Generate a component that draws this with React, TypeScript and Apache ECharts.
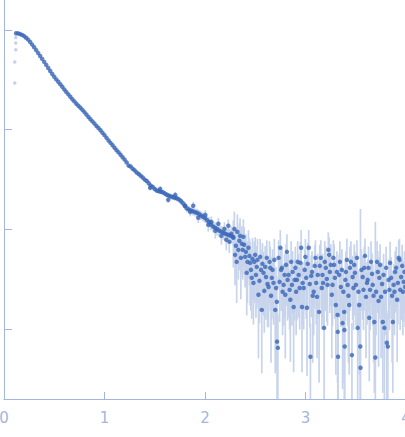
import { useEffect, useRef } from 'react';
import * as echarts from 'echarts';

// q (nm^-1), intensity (arb. units), sigma
const curvePoints: number[][] = [
  [0.12, 927, 4], [0.14, 923, 4], [0.16, 908, 4], [0.18, 891, 4], [0.2, 867, 4],
  [0.22, 836, 4], [0.24, 800, 4], [0.26, 757, 4], [0.28, 713, 3], [0.3, 670, 3],
  [0.32, 627, 3], [0.34, 586, 3], [0.36, 548, 3], [0.38, 512, 3], [0.4, 478, 3],
  [0.42, 446, 3], [0.44, 415, 3], [0.46, 387, 3], [0.48, 361, 3], [0.5, 339, 3],
  [0.52, 319, 3], [0.54, 302, 3], [0.56, 285, 3], [0.58, 269, 3], [0.6, 253, 3],
  [0.62, 239, 2.5], [0.64, 226, 2.5], [0.66, 214, 2.5], [0.68, 202, 2.5], [0.7, 192, 2.5],
  [0.72, 182, 2.5], [0.74, 174, 2.5], [0.76, 166, 2.5], [0.78, 158, 2.5], [0.8, 150, 2.5],
  [0.82, 142, 2.2], [0.84, 134, 2.2], [0.86, 127, 2.2], [0.88, 121, 2.2], [0.9, 115, 2.2],
  [0.92, 109, 2.2], [0.94, 104, 2.2], [0.96, 98.6, 2], [0.98, 93.3, 2], [1.0, 88.1, 2],
  [1.02, 82.8, 2], [1.04, 78.0, 2], [1.06, 73.8, 1.9], [1.08, 69.7, 1.9], [1.1, 65.8, 1.9],
  [1.12, 62.2, 1.8], [1.14, 59.2, 1.8], [1.16, 56.0, 1.8], [1.18, 53.0, 1.7], [1.2, 50.1, 1.7],
  [1.22, 47.0, 1.6], [1.24, 43.6, 1.6], [1.26, 42.7, 1.6], [1.28, 40.6, 1.5], [1.3, 39.1, 1.5],
  [1.32, 37.2, 1.5], [1.34, 36.0, 1.5], [1.36, 34.5, 1.4], [1.38, 33.1, 1.4], [1.4, 31.6, 1.4],
  [1.42, 30.6, 1.4], [1.44, 29.0, 1.4], [1.46, 27.5, 1.4], [1.48, 26.6, 1.4], [1.5, 25.4, 1.4],
  [1.52, 24.5, 1.4], [1.54, 24.2, 1.4], [1.56, 23.9, 1.4], [1.58, 23.6, 1.4], [1.6, 22.9, 1.4],
  [1.62, 22.3, 1.4], [1.64, 21.8, 1.4], [1.66, 21.4, 1.4], [1.68, 21.1, 1.4], [1.7, 20.8, 1.4],
  [1.72, 20.5, 1.4], [1.74, 20.0, 1.4], [1.76, 19.3, 1.4], [1.78, 18.3, 1.4], [1.8, 17.2, 1.4],
  [1.82, 16.2, 1.4], [1.84, 15.8, 1.4], [1.86, 15.5, 1.4], [1.88, 15.2, 1.4], [1.9, 14.9, 1.4],
  [1.92, 14.7, 1.4], [1.94, 14.3, 1.4], [1.96, 13.8, 1.4], [1.98, 13.4, 1.4], [2.0, 13.0, 1.4],
  [2.02, 12.4, 1.4], [2.04, 11.9, 1.4], [2.06, 11.2, 1.4], [2.08, 10.7, 1.4], [2.1, 10.4, 1.4],
  [2.12, 10.1, 1.4], [2.14, 9.77, 1.4], [2.16, 9.51, 1.4], [2.18, 9.29, 1.4], [2.2, 9.08, 1.4],
  [2.22, 8.91, 1.4], [2.24, 8.75, 1.4], [2.26, 8.61, 1.4], [2.28, 8.41, 1.4],
];

// scattered points around the shoulder
const shoulderPoints: number[][] = [
  [1.454, 26.1, 1.4], [1.554, 25.5, 1.4], [1.634, 19.8, 1.4], [1.704, 22.2, 1.4],
  [1.803, 17.3, 1.5], [1.853, 15.0, 1.5], [1.883, 17.3, 1.5], [1.933, 13.1, 1.5],
  [2.003, 14.0, 1.6], [2.033, 11.1, 1.6], [2.063, 11.9, 1.6], [2.103, 9.68, 1.6],
  [2.133, 11.4, 1.6], [2.163, 8.63, 1.6], [2.193, 10.1, 1.7], [2.212, 7.87, 1.7],
  [2.232, 10.9, 1.7], [2.242, 7.51, 1.7], [2.262, 9.04, 1.7],
];

// noisy high-q tail
const tailPoints: number[][] = [
  [2.282, 8.24, 4.1], [2.292, 10.1, 5.0], [2.299, 5.56, 2.8], [2.307, 6.85, 3.4], [2.315, 4.73, 2.9],
  [2.322, 9.46, 4.7], [2.332, 6.24, 3.1], [2.342, 7.69, 3.8], [2.349, 8.62, 4.3], [2.357, 5.19, 3.2],
  [2.367, 7.17, 3.6], [2.375, 6.24, 3.1], [2.382, 8.43, 4.2], [2.39, 7.01, 3.5], [2.399, 5.31, 2.7],
  [2.407, 5.96, 3.0], [2.415, 3.67, 2.3], [2.422, 4.73, 2.9], [2.432, 6.54, 3.3], [2.442, 5.43, 2.7],
  [2.449, 4.62, 2.9], [2.457, 3.93, 2.4], [2.465, 3.27, 2.0], [2.472, 5.07, 3.1], [2.482, 2.91, 1.8],
  [2.49, 4.73, 2.9], [2.499, 5.56, 2.8], [2.507, 3.5, 2.2], [2.515, 4.21, 2.6], [2.522, 4.95, 3.1],
  [2.532, 2.21, 1.7], [2.542, 3.05, 1.9], [2.549, 5.31, 2.7], [2.557, 3.93, 2.4], [2.565, 1.56, 1.2],
  [2.572, 4.52, 2.8], [2.582, 3.67, 2.3], [2.59, 2.42, 1.5], [2.599, 4.21, 2.6], [2.607, 3.34, 2.1],
  [2.615, 5.19, 2.6], [2.622, 2.84, 1.8], [2.632, 2.65, 1.6], [2.642, 4.73, 2.9], [2.649, 4.12, 2.6],
  [2.657, 2.16, 1.7], [2.665, 3.27, 2.0], [2.672, 3.93, 2.4], [2.682, 2.91, 1.8], [2.69, 4.95, 3.1],
  [2.699, 1.56, 1.2], [2.707, 2.59, 1.6], [2.715, 1.88, 1.5], [2.717, 0.75, 0.85], [2.725, 0.65, 0.75],
  [2.732, 5.19, 2.6], [2.742, 2.98, 1.8], [2.749, 6.54, 3.3], [2.757, 3.93, 2.4], [2.765, 4.12, 2.6],
  [2.772, 2.37, 1.5], [2.782, 2.78, 1.7], [2.792, 3.5, 2.2], [2.799, 2.21, 1.7], [2.807, 4.41, 2.7],
  [2.815, 5.96, 3.0], [2.822, 3.12, 1.9], [2.832, 3.5, 2.2], [2.842, 2.48, 1.5], [2.849, 1.97, 1.5],
  [2.857, 4.73, 2.9], [2.865, 2.78, 1.7], [2.872, 3.75, 2.3], [2.882, 1.67, 1.3], [2.892, 3.12, 1.9],
  [2.899, 4.12, 2.6], [2.907, 2.37, 1.5], [2.915, 3.12, 1.9], [2.922, 4.73, 2.9], [2.932, 3.5, 2.2],
  [2.942, 2.59, 1.6], [2.949, 4.62, 2.9], [2.957, 6.54, 3.3], [2.965, 1.67, 1.3], [2.972, 2.91, 1.8],
  [2.982, 2.59, 1.6], [2.992, 3.93, 2.4], [2.999, 5.31, 2.7], [3.007, 3.27, 2.0], [3.015, 1.64, 1.3],
  [3.022, 4.52, 2.8], [3.032, 6.54, 3.3], [3.042, 2.84, 1.8], [3.049, 0.53, 0.6], [3.057, 3.42, 2.1],
  [3.065, 3.75, 2.3], [3.072, 2.16, 1.7], [3.082, 2.37, 1.5], [3.092, 4.31, 2.7], [3.099, 5.19, 2.6],
  [3.107, 2.91, 1.8], [3.115, 2.11, 1.6], [3.122, 3.5, 2.2], [3.135, 1.49, 1.2], [3.142, 4.31, 2.7],
  [3.152, 5.19, 2.6], [3.162, 2.59, 1.6], [3.169, 3.5, 2.2], [3.175, 2.91, 1.8], [3.185, 1.03, 0.85],
  [3.192, 4.73, 2.9], [3.202, 4.12, 2.6], [3.212, 3.19, 2.0], [3.219, 2.78, 1.7], [3.227, 6.24, 3.1],
  [3.235, 5.56, 2.8], [3.242, 3.75, 2.3], [3.252, 4.41, 2.7], [3.262, 2.21, 1.7], [3.269, 2.78, 1.7],
  [3.277, 5.19, 2.6], [3.285, 4.41, 2.7], [3.292, 3.27, 2.0], [3.302, 1.75, 1.4], [3.312, 3.75, 2.3],
  [3.319, 1.39, 1.1], [3.321, 0.94, 0.8], [3.324, 0.53, 0.6], [3.335, 3.5, 2.2], [3.342, 4.73, 2.9],
  [3.352, 2.65, 1.6], [3.362, 3.93, 2.4], [3.369, 1.15, 0.9], [3.377, 2.37, 1.5], [3.385, 1.49, 1.2],
  [3.387, 0.98, 0.8], [3.39, 0.67, 0.75], [3.397, 3.12, 1.9], [3.402, 3.75, 2.3], [3.412, 4.95, 3.1],
  [3.419, 2.78, 1.7], [3.427, 2.16, 1.7], [3.435, 1.75, 1.4], [3.442, 4.12, 2.6], [3.452, 4.73, 2.9],
  [3.462, 0.55, 0.6], [3.469, 3.34, 2.1], [3.477, 2.59, 1.6], [3.485, 4.41, 2.7], [3.492, 3.67, 2.3],
  [3.502, 2.78, 1.7], [3.512, 5.19, 2.6], [3.519, 1.03, 0.85], [3.527, 2.37, 1.5], [3.535, 1.75, 1.4],
  [3.545, 0.67, 0.6], [3.547, 0.41, 15.6], [3.557, 3.93, 2.4], [3.569, 3.34, 2.1], [3.577, 2.48, 1.5],
  [3.585, 4.12, 2.6], [3.592, 5.43, 2.7], [3.602, 2.11, 1.6], [3.612, 2.91, 1.8], [3.619, 3.12, 1.9],
  [3.627, 4.12, 2.6], [3.635, 1.3, 1.0], [3.642, 2.48, 1.5], [3.652, 4.73, 2.9], [3.662, 3.58, 2.2],
  [3.669, 2.78, 1.7], [3.677, 2.16, 1.7], [3.685, 1.18, 0.95], [3.695, 0.52, 11.4], [3.702, 2.37, 1.5],
  [3.712, 4.73, 2.9], [3.719, 3.75, 2.3], [3.727, 1.92, 1.5], [3.735, 3.27, 2.0], [3.742, 4.41, 2.7],
  [3.752, 2.11, 1.6], [3.762, 2.84, 1.8], [3.769, 1.18, 0.95], [3.777, 3.5, 2.2], [3.785, 1.03, 0.85],
  [3.792, 2.37, 1.5], [3.802, 4.12, 2.6], [3.809, 0.73, 0.8], [3.819, 0.67, 0.75], [3.827, 3.12, 1.9],
  [3.835, 2.48, 1.5], [3.842, 4.62, 2.9], [3.852, 3.27, 2.0], [3.862, 2.16, 1.7], [3.869, 1.18, 0.95],
  [3.877, 2.78, 1.7], [3.885, 2.37, 1.5], [3.892, 3.75, 2.3], [3.902, 4.12, 2.6], [3.912, 1.97, 1.5],
  [3.919, 2.91, 1.8], [3.927, 5.19, 2.6], [3.935, 4.95, 3.1], [3.942, 2.48, 1.5], [3.952, 3.34, 2.1],
  [3.962, 4.31, 2.7], [3.969, 2.37, 1.5], [3.977, 2.98, 1.8], [3.985, 3.75, 2.3], [3.992, 2.65, 1.6],
];

// points left out of the fit at the lowest q
const excludedPoints: number[][] = [
  [0.107, 293], [0.107, 476], [0.117, 634], [0.117, 739], [0.117, 841],
];

const xRange = [0, 4];
const yTicks = [1, 10, 100, 1000];
const yRange = [10 ** -0.7, 10 ** 3.3];

const AXIS_COLOR = '#a3b6e0';
const POINT_COLOR = '#3a67b7';
const ERR_COLOR = '#c7d4ec';

export default function App() {
  const chartRef = useRef<HTMLDivElement>(null);

  useEffect(() => {
    if (!chartRef.current) return;
    const chart = echarts.init(chartRef.current, undefined, { renderer: 'svg' });

    const measured = [...curvePoints, ...shoulderPoints, ...tailPoints];
    const errorBars = measured.map(([q, i, s]) => [q, Math.max(i - s, yRange[0]), i + s]);

    const option: any = {
      animation: false,
      backgroundColor: '#ffffff',
      grid: {
        left: 4,
        right: -1,
        top: 0,
        bottom: 38,
        containLabel: false,
        outerBoundsMode: 'none',
      },
      xAxis: {
        type: 'value',
        min: xRange[0],
        max: xRange[1],
        interval: 1,
        axisLine: { lineStyle: { color: AXIS_COLOR, width: 1 } },
        axisTick: { inside: true, length: 7, lineStyle: { color: AXIS_COLOR } },
        axisLabel: {
          color: AXIS_COLOR,
          fontSize: 15,
          fontFamily: 'DejaVu Sans',
          margin: 11,
          showMinLabel: true,
          showMaxLabel: true,
          hideOverlap: false,
        },
        splitLine: { show: false },
      },
      yAxis: {
        type: 'log',
        min: yRange[0],
        max: yRange[1],
        axisLine: { show: true, lineStyle: { color: AXIS_COLOR, width: 1 } },
        axisTick: {
          show: true,
          inside: true,
          length: 8,
          customValues: yTicks,
          lineStyle: { color: AXIS_COLOR },
        },
        axisLabel: { show: false },
        splitLine: { show: false },
      },
      series: [
        {
          type: 'custom',
          data: errorBars,
          encode: { x: 0, y: [1, 2] },
          clip: true,
          z: 1,
          renderItem: (_params: any, api: any) => {
            const p1 = api.coord([api.value(0), api.value(1)]);
            const p2 = api.coord([api.value(0), api.value(2)]);
            return {
              type: 'line',
              shape: { x1: p1[0], y1: p1[1], x2: p2[0], y2: p2[1] },
              style: { stroke: ERR_COLOR, lineWidth: 1.7 },
            };
          },
        },
        {
          type: 'scatter',
          data: excludedPoints,
          symbolSize: 3.5,
          itemStyle: { color: '#b5c5e6' },
          z: 2,
        },
        {
          type: 'scatter',
          data: measured.map(([q, i]) => [q, i]),
          symbolSize: 4.5,
          itemStyle: { color: POINT_COLOR },
          z: 3,
        },
      ],
    };

    chart.setOption(option);
    return () => chart.dispose();
  }, []);

  return (
    <div
      ref={chartRef}
      style={{ position: 'fixed', left: 0, top: 0, width: 405, height: 437 }}
    />
  );
}
